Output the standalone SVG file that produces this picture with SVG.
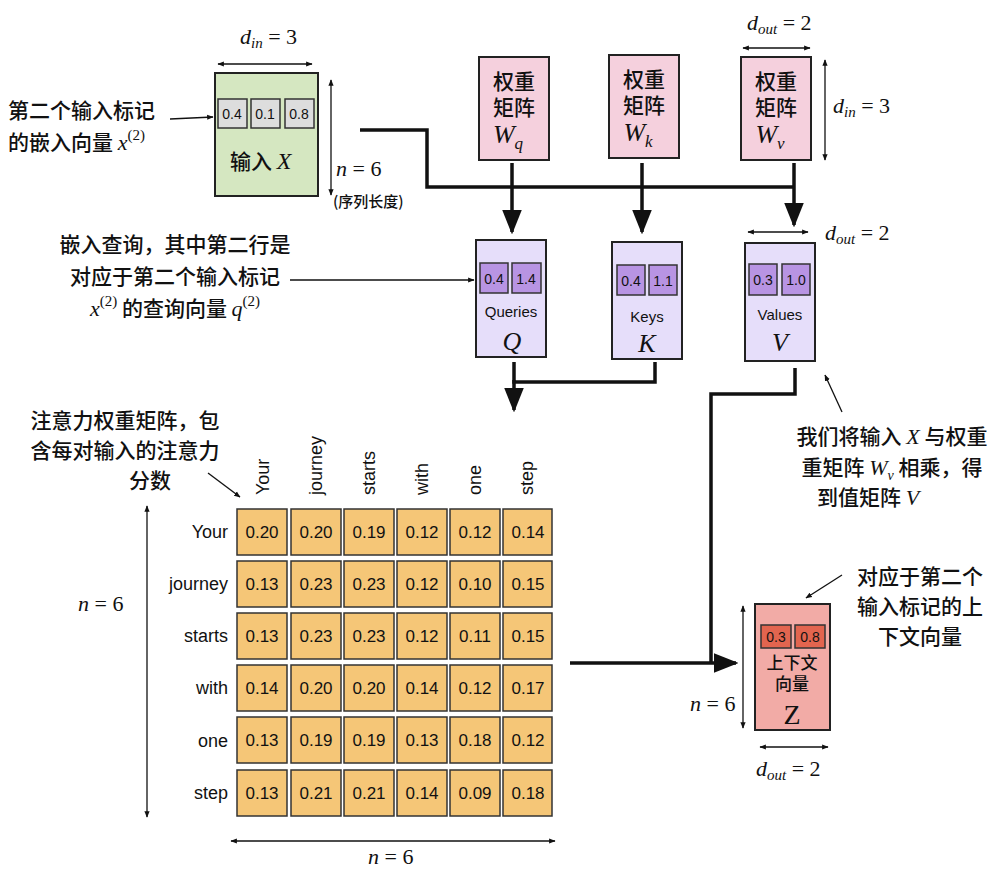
<svg xmlns="http://www.w3.org/2000/svg" width="1000" height="870" viewBox="0 0 1000 870">
<defs>
<style>
.cn{font-family:"Noto Sans CJK SC","Noto Sans",sans-serif;font-size:21px;font-weight:500;fill:#111}
.m{font-family:"Liberation Serif",serif;font-style:italic;font-size:22px;font-weight:normal;fill:#111}
.big{font-size:26px}
.up{font-family:"Liberation Serif",serif;font-style:normal;font-size:15px;font-weight:normal}
.sf{font-family:"Liberation Sans",Arial,sans-serif;fill:#111}
.box{stroke:#222;stroke-width:2}
.thin{stroke:#111;stroke-width:1.3;fill:none}
.thick{stroke:#111;stroke-width:3.5;fill:none}
.cell{fill:#f5c677;stroke:#333;stroke-width:1.5}
</style>
<marker id="a" viewBox="0 0 10 10" refX="9" refY="5" markerWidth="7" markerHeight="7" orient="auto-start-reverse"><path d="M0,1 L10,5 L0,9 z" fill="#111"/></marker>
<marker id="b" viewBox="0 0 10 10" refX="9" refY="5" markerWidth="5" markerHeight="5" orient="auto-start-reverse"><path d="M0,1 L10,5 L0,9 z" fill="#111"/></marker>
</defs>
<rect width="1000" height="870" fill="#fff"/>

<g id="inputX">
<rect class="box" x="215" y="73" width="103" height="123" fill="#d5e7c1"/>
<g fill="#ddd" stroke="#333" stroke-width="1.5"><rect x="218" y="99" width="29" height="29"/><rect x="251" y="99" width="29" height="29"/><rect x="285" y="99" width="29" height="29"/></g>
<g class="sf" font-size="14" text-anchor="middle"><text x="232" y="119">0.4</text><text x="265" y="119">0.1</text><text x="299" y="119">0.8</text></g>
<text class="cn" x="230" y="169">输入 <tspan class="m" style="font-size:24px">X</tspan></text>
<line class="thin" x1="218" y1="64" x2="312" y2="64" marker-start="url(#b)" marker-end="url(#b)"/>
<text class="m" x="240" y="44">d<tspan font-size="15" dy="4">in</tspan><tspan dy="-4" style="font-style:normal"> = 3</tspan></text>
<line class="thin" x1="331" y1="80" x2="331" y2="195" marker-start="url(#b)" marker-end="url(#b)"/>
<text class="m" x="336" y="176">n<tspan style="font-style:normal"> = 6</tspan></text>
<text class="cn" x="333" y="207" style="font-size:15px">(序列长度)</text>
<text class="cn" x="8" y="118">第二个输入标记</text>
<text class="cn" x="8" y="150">的嵌入向量 <tspan class="m">x</tspan><tspan class="up" dy="-10">(2)</tspan></text>
<line class="thin" x1="170" y1="119" x2="213" y2="117" stroke-width="1.8" marker-end="url(#b)"/>
</g>

<g id="Wq"><rect class="box" x="479" y="57" width="70" height="103" fill="#f5d0dd"/>
<text class="cn" x="514" y="89" text-anchor="middle">权重</text><text class="cn" x="514" y="115" text-anchor="middle">矩阵</text>
<text class="m big" x="508" y="143" text-anchor="middle">W<tspan font-size="17" dy="6">q</tspan></text></g>
<g id="Wk"><rect class="box" x="609" y="55" width="70" height="103" fill="#f5d0dd"/>
<text class="cn" x="644" y="87" text-anchor="middle">权重</text><text class="cn" x="644" y="113" text-anchor="middle">矩阵</text>
<text class="m big" x="638" y="141" text-anchor="middle">W<tspan font-size="17" dy="6">k</tspan></text></g>
<g id="Wv"><rect class="box" x="741" y="57" width="70" height="103" fill="#f5d0dd"/>
<text class="cn" x="776" y="89" text-anchor="middle">权重</text><text class="cn" x="776" y="115" text-anchor="middle">矩阵</text>
<text class="m big" x="770" y="143" text-anchor="middle">W<tspan font-size="17" dy="6">v</tspan></text>
<line class="thin" x1="743" y1="48" x2="810" y2="48" marker-start="url(#b)" marker-end="url(#b)"/>
<text class="m" x="747" y="30">d<tspan font-size="15" dy="4">out</tspan><tspan dy="-4" style="font-style:normal"> = 2</tspan></text>
<line class="thin" x1="825" y1="60" x2="825" y2="160" marker-start="url(#b)" marker-end="url(#b)"/>
<text class="m" x="833" y="113">d<tspan font-size="15" dy="4">in</tspan><tspan dy="-4" style="font-style:normal"> = 3</tspan></text></g>

<g id="Q"><rect class="box" x="476" y="240" width="70" height="117" fill="#e6defa"/>
<g fill="#b894e3" stroke="#333" stroke-width="1.5"><rect x="480" y="263" width="28" height="30"/><rect x="512" y="263" width="29" height="30"/></g>
<g class="sf" font-size="14" text-anchor="middle"><text x="494" y="284">0.4</text><text x="526" y="284">1.4</text></g>
<text class="sf" x="511" y="317" font-size="15" text-anchor="middle">Queries</text>
<text class="m big" x="512" y="350" text-anchor="middle">Q</text></g>
<g id="K"><rect class="box" x="612" y="242" width="70" height="117" fill="#e6defa"/>
<g fill="#b894e3" stroke="#333" stroke-width="1.5"><rect x="617" y="265" width="28" height="30"/><rect x="649" y="265" width="28" height="30"/></g>
<g class="sf" font-size="14" text-anchor="middle"><text x="631" y="286">0.4</text><text x="663" y="286">1.1</text></g>
<text class="sf" x="647" y="322" font-size="15" text-anchor="middle">Keys</text>
<text class="m big" x="647" y="352" text-anchor="middle">K</text></g>
<g id="V"><rect class="box" x="745" y="243" width="70" height="118" fill="#e6defa"/>
<g fill="#b894e3" stroke="#333" stroke-width="1.5"><rect x="749" y="264" width="28" height="31"/><rect x="782" y="264" width="28" height="31"/></g>
<g class="sf" font-size="14" text-anchor="middle"><text x="763" y="285">0.3</text><text x="796" y="285">1.0</text></g>
<text class="sf" x="780" y="320" font-size="15" text-anchor="middle">Values</text>
<text class="m big" x="780" y="351" text-anchor="middle">V</text>
<line class="thin" x1="748" y1="232" x2="808" y2="232" marker-start="url(#b)" marker-end="url(#b)"/>
<text class="m" x="825" y="240">d<tspan font-size="15" dy="4">out</tspan><tspan dy="-4" style="font-style:normal"> = 2</tspan></text></g>

<g id="qnote">
<text class="cn" x="175" y="252" text-anchor="middle">嵌入查询，其中第二行是</text>
<text class="cn" x="175" y="284" text-anchor="middle">对应于第二个输入标记</text>
<text class="cn" x="175" y="316" text-anchor="middle"><tspan class="m">x</tspan><tspan class="up" dy="-10">(2)</tspan><tspan dy="10"> 的查询向量 </tspan><tspan class="m">q</tspan><tspan class="up" dy="-10">(2)</tspan></text>
<line class="thin" x1="290" y1="280" x2="474" y2="280" stroke-width="2" marker-end="url(#b)"/>
</g>

<g id="vnote">
<text class="cn" x="892" y="444" text-anchor="middle">我们将输入 <tspan class="m">X</tspan> 与权重</text>
<text class="cn" x="892" y="475" text-anchor="middle">重矩阵 <tspan class="m">W</tspan><tspan class="m" style="font-size:14px" dy="5">v</tspan><tspan dy="-5"> 相乘，得</tspan></text>
<text class="cn" x="868" y="505" text-anchor="middle">到值矩阵 <tspan class="m">V</tspan></text>
<line class="thin" x1="842" y1="412" x2="825" y2="375" stroke-width="1.8" marker-end="url(#b)"/>
</g>

<g id="Z"><rect class="box" x="755" y="604" width="75" height="126" fill="#f2aba6"/>
<g fill="#e2654f" stroke="#333" stroke-width="1.5"><rect x="761" y="625" width="30" height="23"/><rect x="795" y="625" width="30" height="23"/></g>
<g class="sf" font-size="14" text-anchor="middle"><text x="776" y="642">0.3</text><text x="810" y="642">0.8</text></g>
<text class="cn" x="792" y="669" style="font-size:17px" text-anchor="middle">上下文</text>
<text class="cn" x="792" y="690" style="font-size:17px" text-anchor="middle">向量</text>
<text class="m" x="792" y="724" style="font-size:28px;font-style:normal" text-anchor="middle">Z</text>
<line class="thin" x1="743" y1="606" x2="743" y2="728" marker-start="url(#b)" marker-end="url(#b)"/>
<text class="m" x="690" y="711">n<tspan style="font-style:normal"> = 6</tspan></text>
<line class="thin" x1="760" y1="747" x2="828" y2="747" marker-start="url(#b)" marker-end="url(#b)"/>
<text class="m" x="756" y="776">d<tspan font-size="15" dy="4">out</tspan><tspan dy="-4" style="font-style:normal"> = 2</tspan></text>
<text class="cn" x="920" y="584" text-anchor="middle">对应于第二个</text>
<text class="cn" x="920" y="614" text-anchor="middle">输入标记的上</text>
<text class="cn" x="920" y="644" text-anchor="middle">下文向量</text>
<line class="thin" x1="842" y1="575" x2="806" y2="598" stroke-width="1.8" marker-end="url(#b)"/>
</g>

<g id="attn">
<text class="cn" x="125" y="428" text-anchor="middle">注意力权重矩阵，包</text>
<text class="cn" x="125" y="458" text-anchor="middle">含每对输入的注意力</text>
<text class="cn" x="150" y="488" text-anchor="middle">分数</text>
<line class="thin" x1="208" y1="473" x2="240" y2="497" stroke-width="1.8" marker-end="url(#b)"/>
<g class="sf" font-size="18" text-anchor="end">
<text x="228" y="538">Your</text><text x="228" y="590">journey</text><text x="228" y="642">starts</text><text x="228" y="694">with</text><text x="228" y="747">one</text><text x="228" y="799">step</text></g>
<g class="sf" font-size="18">
<text transform="translate(269,495) rotate(-90)">Your</text>
<text transform="translate(322,495) rotate(-90)">journey</text>
<text transform="translate(375,495) rotate(-90)">starts</text>
<text transform="translate(428,495) rotate(-90)">with</text>
<text transform="translate(481,495) rotate(-90)">one</text>
<text transform="translate(533,495) rotate(-90)">step</text></g>
<g>
<rect class="cell" x="237" y="509" width="50" height="46"/><rect class="cell" x="291" y="509" width="50" height="46"/><rect class="cell" x="344" y="509" width="50" height="46"/><rect class="cell" x="397" y="509" width="50" height="46"/><rect class="cell" x="450" y="509" width="50" height="46"/><rect class="cell" x="503" y="509" width="49" height="46"/>
<rect class="cell" x="237" y="561" width="50" height="46"/><rect class="cell" x="291" y="561" width="50" height="46"/><rect class="cell" x="344" y="561" width="50" height="46"/><rect class="cell" x="397" y="561" width="50" height="46"/><rect class="cell" x="450" y="561" width="50" height="46"/><rect class="cell" x="503" y="561" width="49" height="46"/>
<rect class="cell" x="237" y="613" width="50" height="46"/><rect class="cell" x="291" y="613" width="50" height="46"/><rect class="cell" x="344" y="613" width="50" height="46"/><rect class="cell" x="397" y="613" width="50" height="46"/><rect class="cell" x="450" y="613" width="50" height="46"/><rect class="cell" x="503" y="613" width="49" height="46"/>
<rect class="cell" x="237" y="665" width="50" height="46"/><rect class="cell" x="291" y="665" width="50" height="46"/><rect class="cell" x="344" y="665" width="50" height="46"/><rect class="cell" x="397" y="665" width="50" height="46"/><rect class="cell" x="450" y="665" width="50" height="46"/><rect class="cell" x="503" y="665" width="49" height="46"/>
<rect class="cell" x="237" y="717" width="50" height="46"/><rect class="cell" x="291" y="717" width="50" height="46"/><rect class="cell" x="344" y="717" width="50" height="46"/><rect class="cell" x="397" y="717" width="50" height="46"/><rect class="cell" x="450" y="717" width="50" height="46"/><rect class="cell" x="503" y="717" width="49" height="46"/>
<rect class="cell" x="237" y="770" width="50" height="46"/><rect class="cell" x="291" y="770" width="50" height="46"/><rect class="cell" x="344" y="770" width="50" height="46"/><rect class="cell" x="397" y="770" width="50" height="46"/><rect class="cell" x="450" y="770" width="50" height="46"/><rect class="cell" x="503" y="770" width="49" height="46"/>
</g>
<g class="sf" font-size="17" text-anchor="middle">
<text x="262" y="538">0.20</text><text x="316" y="538">0.20</text><text x="369" y="538">0.19</text><text x="422" y="538">0.12</text><text x="475" y="538">0.12</text><text x="528" y="538">0.14</text>
<text x="262" y="590">0.13</text><text x="316" y="590">0.23</text><text x="369" y="590">0.23</text><text x="422" y="590">0.12</text><text x="475" y="590">0.10</text><text x="528" y="590">0.15</text>
<text x="262" y="642">0.13</text><text x="316" y="642">0.23</text><text x="369" y="642">0.23</text><text x="422" y="642">0.12</text><text x="475" y="642">0.11</text><text x="528" y="642">0.15</text>
<text x="262" y="694">0.14</text><text x="316" y="694">0.20</text><text x="369" y="694">0.20</text><text x="422" y="694">0.14</text><text x="475" y="694">0.12</text><text x="528" y="694">0.17</text>
<text x="262" y="746">0.13</text><text x="316" y="746">0.19</text><text x="369" y="746">0.19</text><text x="422" y="746">0.13</text><text x="475" y="746">0.18</text><text x="528" y="746">0.12</text>
<text x="262" y="799">0.13</text><text x="316" y="799">0.21</text><text x="369" y="799">0.21</text><text x="422" y="799">0.14</text><text x="475" y="799">0.09</text><text x="528" y="799">0.18</text>
</g>
<line class="thin" x1="147" y1="506" x2="147" y2="817" marker-start="url(#b)" marker-end="url(#b)"/>
<text class="m" x="78" y="611">n<tspan style="font-style:normal"> = 6</tspan></text>
<line class="thin" x1="231" y1="841" x2="555" y2="841" marker-start="url(#b)" marker-end="url(#b)"/>
<text class="m" x="368" y="864">n<tspan style="font-style:normal"> = 6</tspan></text>
</g>

<g id="connectors">
<polyline class="thick" points="360,130 427,130 427,187 794,187"/>
<line class="thick" x1="512" y1="163" x2="512" y2="232" marker-end="url(#a)"/>
<line class="thick" x1="642" y1="163" x2="642" y2="232" marker-end="url(#a)"/>
<line class="thick" x1="794" y1="163" x2="794" y2="225" marker-end="url(#a)"/>
<polyline class="thick" points="514,362 514,382 655,382 655,362"/>
<line class="thick" x1="514" y1="380" x2="514" y2="410" marker-end="url(#a)"/>
<polyline class="thick" points="795,368 795,394 711,394 711,663"/>
<line class="thick" x1="570" y1="663" x2="736" y2="663" marker-end="url(#a)"/>
</g>
</svg>
